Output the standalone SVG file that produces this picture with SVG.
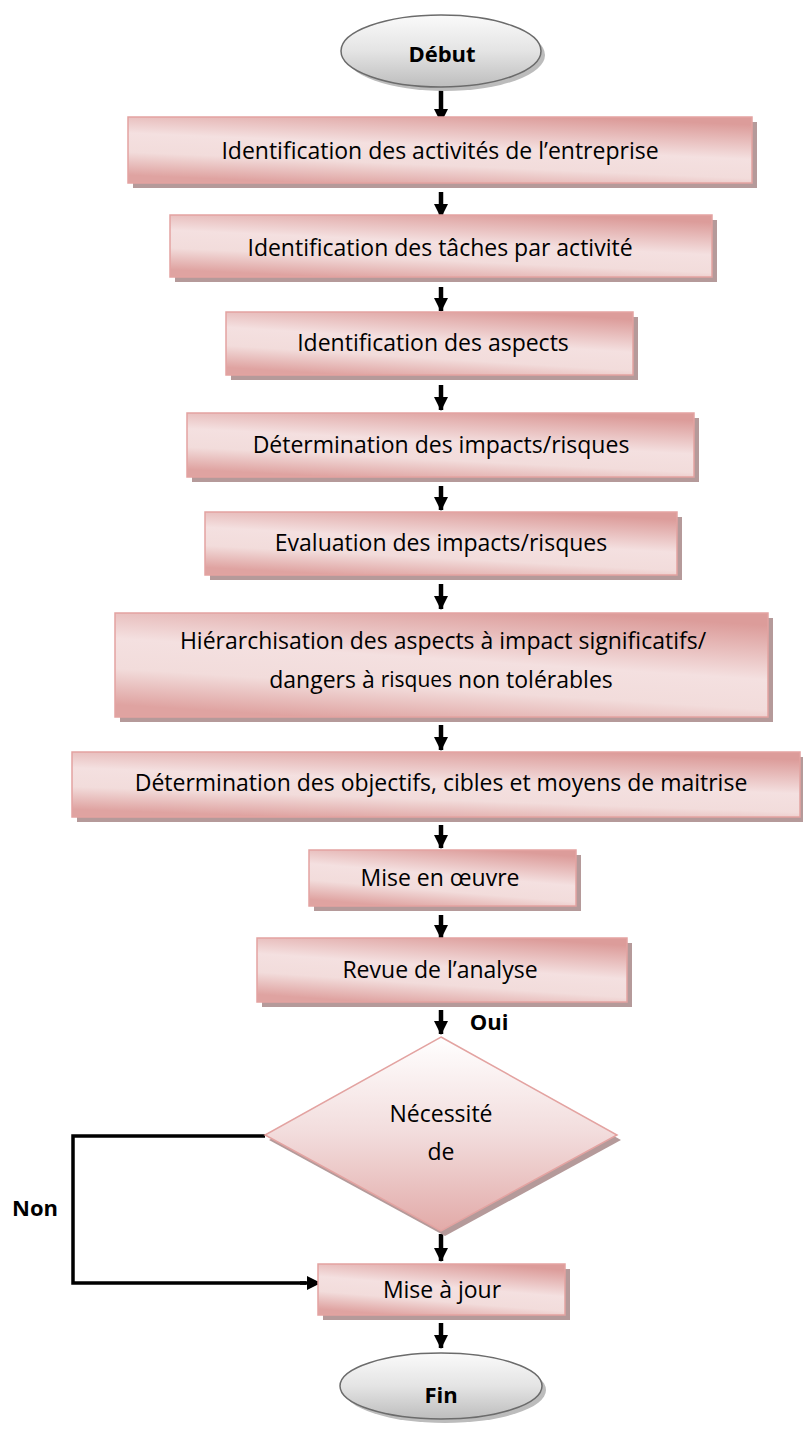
<svg xmlns="http://www.w3.org/2000/svg" width="803" height="1436" viewBox="0 0 803 1436">
<defs>
<linearGradient id="pink" x1="0.7" y1="0" x2="0.3" y2="1">
<stop offset="0" stop-color="#dc9c9a"/>
<stop offset="0.45" stop-color="#f4e0e0"/>
<stop offset="0.7" stop-color="#f2dcdb"/>
<stop offset="1" stop-color="#dfa3a1"/>
</linearGradient>
<linearGradient id="dia" x1="0" y1="0" x2="0" y2="1">
<stop offset="0" stop-color="#ffffff"/>
<stop offset="0.5" stop-color="#f2dcdc"/>
<stop offset="1" stop-color="#e2aaa8"/>
</linearGradient>
<linearGradient id="gray" x1="0" y1="0" x2="0" y2="1">
<stop offset="0" stop-color="#fafafa"/>
<stop offset="0.5" stop-color="#e4e4e4"/>
<stop offset="1" stop-color="#bdbdbd"/>
</linearGradient>
<marker id="ah" markerUnits="userSpaceOnUse" markerWidth="14" markerHeight="14" viewBox="0 0 14 14" refX="13" refY="7" orient="auto">
<path d="M0,0 L14,7 L0,14 Z" fill="#000"/>
</marker>
</defs>
<style>
.box{fill:url(#pink);stroke:#e3a3a1;stroke-width:1.5}
.sh{fill:#b59a9a}
.ell{fill:url(#gray);stroke:#6b6b6b;stroke-width:1.5}
.esh{fill:#bcbcbc}
.t{font-family:"Open Sans","Liberation Sans",sans-serif;font-size:23px;fill:#000;text-anchor:middle;dominant-baseline:central}
.b{font-family:"Open Sans","Liberation Sans",sans-serif;font-size:22px;font-weight:bold;fill:#000;text-anchor:middle;dominant-baseline:central}
.ar{stroke:#000;stroke-width:4.5;fill:none;marker-end:url(#ah)}
.ln{stroke:#000;stroke-width:3.5;fill:none}
</style>

<g id="connectors">
<line class="ar" x1="441" y1="88" x2="441" y2="122"/>
<line class="ar" x1="441" y1="192" x2="441" y2="217"/>
<line class="ar" x1="441" y1="287" x2="441" y2="311"/>
<line class="ar" x1="441" y1="385" x2="441" y2="410"/>
<line class="ar" x1="441" y1="486" x2="441" y2="510"/>
<line class="ar" x1="441" y1="584" x2="441" y2="609"/>
<line class="ar" x1="441" y1="725" x2="441" y2="750"/>
<line class="ar" x1="441" y1="825" x2="441" y2="848"/>
<line class="ar" x1="441" y1="915" x2="441" y2="938"/>
<line class="ar" x1="441" y1="1010" x2="441" y2="1034"/>
<line class="ar" x1="441" y1="1234" x2="441" y2="1261"/>
<line class="ar" x1="441" y1="1323" x2="441" y2="1348"/>
<path class="ln" d="M265,1136 H73 V1283 H306"/>
<line class="ar" x1="300" y1="1283" x2="320" y2="1283" style="stroke-width:3.5"/>
<text class="b" x="489" y="1021">Oui</text>
<text class="b" x="35" y="1207">Non</text>
</g>

<g id="debut">
<ellipse class="esh" cx="445" cy="55" rx="100" ry="36"/>
<ellipse class="ell" cx="441" cy="51" rx="100" ry="36"/>
<text class="b" x="442" y="53">Début</text>
</g>

<g id="n1">
<rect class="sh" x="133" y="122" width="624" height="66"/>
<rect class="box" x="128" y="117" width="624" height="66"/>
<text class="t" x="440" y="150">Identification des activités de l’entreprise</text>
</g>

<g id="n2">
<rect class="sh" x="175" y="220" width="542" height="62"/>
<rect class="box" x="170" y="215" width="542" height="62"/>
<text class="t" x="440" y="247">Identification des tâches par activité</text>
</g>

<g id="n3">
<rect class="sh" x="231" y="317" width="407" height="63"/>
<rect class="box" x="226" y="312" width="407" height="63"/>
<text class="t" x="433" y="342">Identification des aspects</text>
</g>

<g id="n4">
<rect class="sh" x="192" y="418" width="507" height="64"/>
<rect class="box" x="187" y="413" width="507" height="64"/>
<text class="t" x="441" y="444">Détermination des impacts/risques</text>
</g>

<g id="n5">
<rect class="sh" x="210" y="517" width="472" height="63"/>
<rect class="box" x="205" y="512" width="472" height="63"/>
<text class="t" x="441" y="542">Evaluation des impacts/risques</text>
</g>

<g id="n6">
<rect class="sh" x="120" y="618" width="653" height="104"/>
<rect class="box" x="115" y="613" width="653" height="104"/>
<text class="t" x="443" y="640">Hiérarchisation des aspects à impact significatifs/</text>
<text class="t" x="441" y="679">dangers à <tspan style="font-size:21px">risques</tspan> non tolérables</text>
</g>

<g id="n7">
<rect class="sh" x="77" y="757" width="728" height="65"/>
<rect class="box" x="72" y="752" width="728" height="65"/>
<text class="t" x="441" y="782">Détermination des objectifs, cibles et moyens de maitrise</text>
</g>

<g id="n8">
<rect class="sh" x="314" y="855" width="267" height="56"/>
<rect class="box" x="309" y="850" width="267" height="56"/>
<text class="t" x="440" y="877">Mise en œuvre</text>
</g>

<g id="n9">
<rect class="sh" x="262" y="943" width="370" height="64"/>
<rect class="box" x="257" y="938" width="370" height="64"/>
<text class="t" x="440" y="969">Revue de l’analyse</text>
</g>

<g id="decision">
<polygon points="445,1042 621,1140 445,1236 269,1140" class="sh"/>
<polygon points="441,1037 617,1135 441,1231 265,1135" style="fill:url(#dia);stroke:#e3a3a1;stroke-width:1.5"/>
<text class="t" x="441" y="1113">Nécessité</text>
<text class="t" x="441" y="1151">de</text>
</g>

<g id="n10">
<rect class="sh" x="323" y="1269" width="247" height="51"/>
<rect class="box" x="318" y="1264" width="247" height="51"/>
<text class="t" x="442" y="1289">Mise à jour</text>
</g>

<g id="fin">
<ellipse class="esh" cx="445" cy="1390" rx="101" ry="33"/>
<ellipse class="ell" cx="441" cy="1386" rx="101" ry="33"/>
<text class="b" x="441" y="1394">Fin</text>
</g>
</svg>
